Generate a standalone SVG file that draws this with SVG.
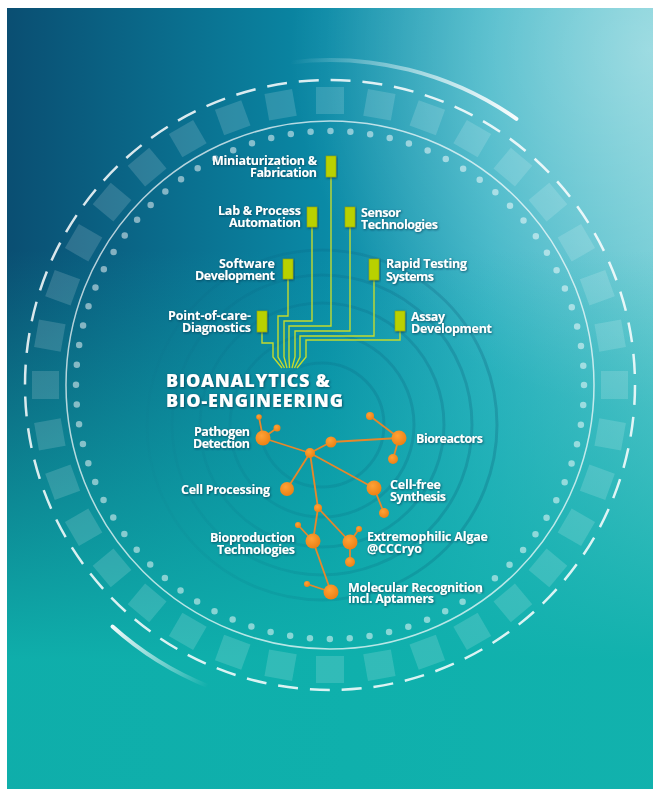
<svg xmlns="http://www.w3.org/2000/svg" xmlns:xlink="http://www.w3.org/1999/xlink" width="653" height="789" viewBox="0 0 653 789">
<defs>
<linearGradient id="bgH" x1="0" y1="0" x2="653" y2="0" gradientUnits="userSpaceOnUse">
<stop offset="0" stop-color="#0a4d71"/><stop offset="0.5" stop-color="#0a8aa6"/><stop offset="0.75" stop-color="#33b1c3"/><stop offset="1" stop-color="#62c6d0"/>
</linearGradient>
<radialGradient id="glow" cx="650" cy="50" r="360" gradientUnits="userSpaceOnUse">
<stop offset="0" stop-color="#ffffff" stop-opacity="0.38"/><stop offset="1" stop-color="#ffffff" stop-opacity="0"/>
</radialGradient>
<linearGradient id="bgV" x1="0" y1="250" x2="0" y2="660" gradientUnits="userSpaceOnUse">
<stop offset="0" stop-color="#0fb1ac" stop-opacity="0"/><stop offset="1" stop-color="#0fb1ac" stop-opacity="0.97"/>
</linearGradient>
<linearGradient id="arcTR" x1="290" y1="62" x2="516" y2="119" gradientUnits="userSpaceOnUse">
<stop offset="0" stop-color="#ffffff" stop-opacity="0"/><stop offset="1" stop-color="#ffffff" stop-opacity="0.95"/>
</linearGradient>
<linearGradient id="arcBL" x1="112" y1="626" x2="208" y2="686" gradientUnits="userSpaceOnUse">
<stop offset="0" stop-color="#ffffff" stop-opacity="0.95"/><stop offset="1" stop-color="#ffffff" stop-opacity="0"/>
</linearGradient>
<linearGradient id="ringGrad" x1="150" y1="0" x2="500" y2="0" gradientUnits="userSpaceOnUse">
<stop offset="0" stop-color="#003a5c" stop-opacity="0.02"/><stop offset="1" stop-color="#003a5c" stop-opacity="0.2"/>
</linearGradient>
<radialGradient id="orangeG" cx="0.4" cy="0.35" r="0.7">
<stop offset="0" stop-color="#ffa236"/><stop offset="1" stop-color="#ec7f12"/>
</radialGradient>
<filter id="sh" x="-20%" y="-40%" width="140%" height="180%">
<feDropShadow dx="0.8" dy="0.9" stdDeviation="1.2" flood-color="#00304a" flood-opacity="0.75"/>
</filter>
<rect id="sq" x="601" y="371" width="27" height="28"/>
</defs>
<style>
.lbl{font-family:"Open Sans","Liberation Sans",sans-serif;font-weight:700;font-size:12.5px;fill:#ffffff}
.end{text-anchor:end}
.title{font-family:"Open Sans","Liberation Sans",sans-serif;font-weight:800;font-size:18px;fill:#ffffff}
.chip{fill:#b9d100;stroke:#8fa300;stroke-width:0.6}
.wire{fill:none;stroke:#c4da2e;stroke-width:1.4}
.edge{fill:none;stroke:#e8872a;stroke-width:1.8}
.nd{fill:url(#orangeG)}
.ring{fill:none;stroke:url(#ringGrad);stroke-width:3}
.sqs use{fill:#ffffff;fill-opacity:0.15}
</style>
<rect x="0" y="0" width="653" height="789" fill="#ffffff"/>
<g id="background">
<rect x="7" y="8" width="646" height="781" fill="url(#bgH)"/>
<rect x="7" y="8" width="646" height="781" fill="url(#glow)"/>
<rect x="7" y="8" width="646" height="781" fill="url(#bgV)"/>
</g>
<g id="inner-rings">
<circle class="ring" cx="322" cy="425" r="62"/>
<circle class="ring" cx="322" cy="425" r="92"/>
<circle class="ring" cx="322" cy="425" r="122"/>
<circle class="ring" cx="322" cy="425" r="150"/>
<circle class="ring" cx="322" cy="425" r="175"/>
</g>
<g id="outer-rings">
<g class="sqs">
<use href="#sq" transform="rotate(0 330 385)"/><use href="#sq" transform="rotate(10 330 385)"/><use href="#sq" transform="rotate(20 330 385)"/><use href="#sq" transform="rotate(30 330 385)"/><use href="#sq" transform="rotate(40 330 385)"/><use href="#sq" transform="rotate(50 330 385)"/><use href="#sq" transform="rotate(60 330 385)"/><use href="#sq" transform="rotate(70 330 385)"/><use href="#sq" transform="rotate(80 330 385)"/><use href="#sq" transform="rotate(90 330 385)"/><use href="#sq" transform="rotate(100 330 385)"/><use href="#sq" transform="rotate(110 330 385)"/><use href="#sq" transform="rotate(120 330 385)"/><use href="#sq" transform="rotate(130 330 385)"/><use href="#sq" transform="rotate(140 330 385)"/><use href="#sq" transform="rotate(150 330 385)"/><use href="#sq" transform="rotate(160 330 385)"/><use href="#sq" transform="rotate(170 330 385)"/><use href="#sq" transform="rotate(180 330 385)"/><use href="#sq" transform="rotate(190 330 385)"/><use href="#sq" transform="rotate(200 330 385)"/><use href="#sq" transform="rotate(210 330 385)"/><use href="#sq" transform="rotate(220 330 385)"/><use href="#sq" transform="rotate(230 330 385)"/><use href="#sq" transform="rotate(240 330 385)"/><use href="#sq" transform="rotate(250 330 385)"/><use href="#sq" transform="rotate(260 330 385)"/><use href="#sq" transform="rotate(270 330 385)"/><use href="#sq" transform="rotate(280 330 385)"/><use href="#sq" transform="rotate(290 330 385)"/><use href="#sq" transform="rotate(300 330 385)"/><use href="#sq" transform="rotate(310 330 385)"/><use href="#sq" transform="rotate(320 330 385)"/><use href="#sq" transform="rotate(330 330 385)"/><use href="#sq" transform="rotate(340 330 385)"/><use href="#sq" transform="rotate(350 330 385)"/>
</g>
<circle cx="330" cy="385" r="305" fill="none" stroke="#ffffff" stroke-opacity="0.85" stroke-width="2.5" stroke-dasharray="20 11.94"/>
<circle cx="330" cy="385" r="264" fill="none" stroke="#ffffff" stroke-opacity="0.7" stroke-width="1.5"/>
<circle cx="330" cy="385" r="254" fill="none" stroke="#ffffff" stroke-opacity="0.5" stroke-width="6.5" stroke-linecap="round" stroke-dasharray="0 19.949"/>
<path d="M290.4 62.4 A325 325 0 0 1 516.4 118.8" fill="none" stroke="url(#arcTR)" stroke-width="4" stroke-linecap="round"/>
<path d="M112.5 626.5 A325 325 0 0 0 208.3 686.3" fill="none" stroke="url(#arcBL)" stroke-width="4" stroke-linecap="round"/>
</g>
<g id="connectors">
<g id="wires" class="wire">
<path d="M262 332 V343 H273 V357 L282 368"/>
<path d="M288 279 V316 H278 V357 L284.5 368"/>
<path d="M312 227 V321 H284 V357 L287 368"/>
<path d="M331 177 V326 H289 V357 L289.5 368"/>
<path d="M350 227 V331 H295 V357 L292 368"/>
<path d="M374 280 V336 H300 V357 L294.5 368"/>
<path d="M400 331 V340 H306 V357 L297 368"/>
</g>
<g id="edges" class="edge">
<line x1="310" y1="453" x2="263" y2="438"/>
<line x1="263" y1="438" x2="259" y2="417"/>
<line x1="263" y1="438" x2="277" y2="428"/>
<line x1="310" y1="453" x2="331" y2="442"/>
<line x1="331" y1="442" x2="399" y2="438"/>
<line x1="399" y1="438" x2="370" y2="416"/>
<line x1="399" y1="438" x2="393" y2="459"/>
<line x1="310" y1="453" x2="287" y2="489"/>
<line x1="310" y1="453" x2="374" y2="488"/>
<line x1="374" y1="488" x2="384" y2="513"/>
<line x1="310" y1="453" x2="318" y2="508"/>
<line x1="318" y1="508" x2="313" y2="541"/>
<line x1="318" y1="508" x2="350" y2="542"/>
<line x1="313" y1="541" x2="298" y2="525"/>
<line x1="313" y1="541" x2="331" y2="592"/>
<line x1="331" y1="592" x2="307" y2="584"/>
<line x1="350" y1="542" x2="359" y2="529"/>
<line x1="350" y1="542" x2="350" y2="562"/>
</g>
</g>
<g id="title" filter="url(#sh)">
<text class="title"><tspan x="166" y="387" textLength="164" lengthAdjust="spacing">BIOANALYTICS &amp;</tspan><tspan x="166" y="407" textLength="177" lengthAdjust="spacing">BIO-ENGINEERING</tspan></text>
</g>
<g id="chip-miniaturization">
<rect class="chip" x="326" y="156" width="10" height="21" filter="url(#sh)"/>
<text class="lbl end" filter="url(#sh)"><tspan x="317" y="165" textLength="105" lengthAdjust="spacing">Miniaturization &amp;</tspan><tspan x="317" y="177" textLength="67" lengthAdjust="spacing">Fabrication</tspan></text>
</g>
<g id="chip-lab-automation">
<rect class="chip" x="307" y="207" width="10" height="20" filter="url(#sh)"/>
<text class="lbl end" filter="url(#sh)"><tspan x="301" y="215" textLength="83" lengthAdjust="spacing">Lab &amp; Process</tspan><tspan x="301" y="227" textLength="72" lengthAdjust="spacing">Automation</tspan></text>
</g>
<g id="chip-sensor">
<rect class="chip" x="345" y="207" width="10" height="20" filter="url(#sh)"/>
<text class="lbl" filter="url(#sh)"><tspan x="361" y="216.5" textLength="40" lengthAdjust="spacing">Sensor</tspan><tspan x="361" y="228.5" textLength="77" lengthAdjust="spacing">Technologies</tspan></text>
</g>
<g id="chip-software">
<rect class="chip" x="283" y="259" width="10" height="20" filter="url(#sh)"/>
<text class="lbl end" filter="url(#sh)"><tspan x="275" y="268" textLength="56" lengthAdjust="spacing">Software</tspan><tspan x="275" y="280" textLength="80" lengthAdjust="spacing">Development</tspan></text>
</g>
<g id="chip-rapid-testing">
<rect class="chip" x="369" y="259" width="10" height="21" filter="url(#sh)"/>
<text class="lbl" filter="url(#sh)"><tspan x="386" y="268" textLength="81" lengthAdjust="spacing">Rapid Testing</tspan><tspan x="386" y="280.5" textLength="48" lengthAdjust="spacing">Systems</tspan></text>
</g>
<g id="chip-point-of-care">
<rect class="chip" x="257" y="311" width="10" height="21" filter="url(#sh)"/>
<text class="lbl end" filter="url(#sh)"><tspan x="251" y="320" textLength="83" lengthAdjust="spacing">Point-of-care-</tspan><tspan x="251" y="332" textLength="69" lengthAdjust="spacing">Diagnostics</tspan></text>
</g>
<g id="chip-assay">
<rect class="chip" x="395" y="311" width="10" height="20" filter="url(#sh)"/>
<text class="lbl" filter="url(#sh)"><tspan x="411" y="320.5" textLength="34" lengthAdjust="spacing">Assay</tspan><tspan x="411" y="332.5" textLength="81" lengthAdjust="spacing">Development</tspan></text>
</g>
<g id="node-hub"><circle class="nd" cx="310" cy="453" r="5"/></g>
<g id="node-pathogen">
<circle class="nd" cx="263" cy="438" r="7.5"/><circle class="nd" cx="259" cy="417" r="2.8"/><circle class="nd" cx="277" cy="428" r="3.5"/>
<text class="lbl end" filter="url(#sh)"><tspan x="250" y="436" textLength="56" lengthAdjust="spacing">Pathogen</tspan><tspan x="250" y="448" textLength="57" lengthAdjust="spacing">Detection</tspan></text>
</g>
<g id="node-junction-1"><circle class="nd" cx="331" cy="442" r="5.5"/></g>
<g id="node-bioreactors">
<circle class="nd" cx="399" cy="438" r="7.5"/><circle class="nd" cx="370" cy="416" r="4"/><circle class="nd" cx="393" cy="459" r="5"/>
<text class="lbl" filter="url(#sh)" x="416" y="442.5" textLength="67" lengthAdjust="spacing">Bioreactors</text>
</g>
<g id="node-cell-processing">
<circle class="nd" cx="287" cy="489" r="7"/>
<text class="lbl end" filter="url(#sh)" x="270" y="494" textLength="89" lengthAdjust="spacing">Cell Processing</text>
</g>
<g id="node-cell-free">
<circle class="nd" cx="374" cy="488" r="7.5"/><circle class="nd" cx="384" cy="513" r="5"/>
<text class="lbl" filter="url(#sh)"><tspan x="390" y="488.5" textLength="51" lengthAdjust="spacing">Cell-free</tspan><tspan x="390" y="500.5" textLength="56" lengthAdjust="spacing">Synthesis</tspan></text>
</g>
<g id="node-junction-2"><circle class="nd" cx="318" cy="508" r="4"/></g>
<g id="node-bioproduction">
<circle class="nd" cx="313" cy="541" r="7.5"/><circle class="nd" cx="298" cy="525" r="3"/>
<text class="lbl end" filter="url(#sh)"><tspan x="295" y="542" textLength="85" lengthAdjust="spacing">Bioproduction</tspan><tspan x="295" y="553.5" textLength="78" lengthAdjust="spacing">Technologies</tspan></text>
</g>
<g id="node-algae">
<circle class="nd" cx="350" cy="542" r="7.5"/><circle class="nd" cx="359" cy="529" r="3"/><circle class="nd" cx="350" cy="562" r="5"/>
<text class="lbl" filter="url(#sh)"><tspan x="367" y="540.5" textLength="121" lengthAdjust="spacing">Extremophilic Algae</tspan><tspan x="367" y="552.5" textLength="55" lengthAdjust="spacing">@CCCryo</tspan></text>
</g>
<g id="node-molecular">
<circle class="nd" cx="331" cy="592" r="7.5"/><circle class="nd" cx="307" cy="584" r="3"/>
<text class="lbl" filter="url(#sh)"><tspan x="348" y="591.5" textLength="135" lengthAdjust="spacing">Molecular Recognition</tspan><tspan x="348" y="602.5" textLength="86" lengthAdjust="spacing">incl. Aptamers</tspan></text>
</g>
</svg>
